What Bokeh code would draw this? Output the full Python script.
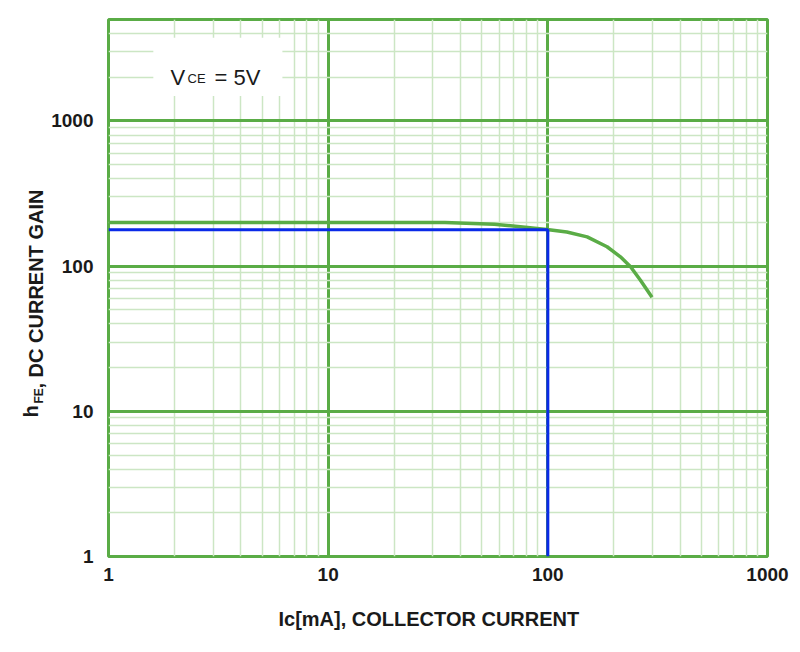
import math
from bokeh.plotting import figure
from bokeh.models import (Range1d, FixedTicker, PrintfTickFormatter, Label,
                          BoxAnnotation, ColumnDataSource)
from bokeh.embed import file_html
from bokeh.resources import INLINE

# ---- data ----
ic_ma = [1, 5, 10, 21, 34, 57, 75, 99, 122, 151, 186, 214, 238, 264, 298]
hfe = [200, 200, 200, 200, 200, 194, 187, 179, 172, 159, 136, 116, 99, 80, 61]

marker_x = [1, 100, 100]
marker_y = [178, 178, 1]

x_major = [1, 10, 100, 1000]
x_minor = [2, 3, 4, 5, 6, 7, 8, 9, 20, 30, 40, 50, 60, 70, 80, 90,
           200, 300, 400, 500, 600, 700, 800, 900]
x_tick_labels = ["1", "10", "100", "1000"]
y_major = [1, 10, 100, 1000]
y_minor = [2, 3, 4, 5, 6, 7, 8, 9, 20, 30, 40, 50, 60, 70, 80, 90,
           200, 300, 400, 500, 600, 700, 800, 900, 2000, 3000, 4000, 5000]
y_tick_labels = ["1", "10", "100", "1000"]

GREEN = "#5aac46"
LIGHT = "#cce6c4"
BLUE = "#0a2ae8"
TXT = "#1a1a1a"
FONT = "Liberation Sans"

p = figure(width=792, height=644, x_axis_type="log", y_axis_type="log",
           x_range=Range1d(1, 1000), y_range=Range1d(1, 5000),
           output_backend="svg", toolbar_location=None,
           min_border_left=108, min_border_right=25,
           min_border_top=19, min_border_bottom=88)
p.background_fill_color = "white"
p.border_fill_color = "white"
p.outline_line_color = GREEN
p.outline_line_width = 3

for ax, major, minor, labels in ((p.xaxis[0], x_major, x_minor, x_tick_labels),
                                 (p.yaxis[0], y_major, y_minor, y_tick_labels)):
    ax.ticker = FixedTicker(ticks=major, minor_ticks=minor)
    ax.formatter = PrintfTickFormatter(format="%d")
    ax.major_label_overrides = {m: l for m, l in zip(major, labels)}
    ax.axis_line_color = None
    ax.major_tick_line_color = None
    ax.minor_tick_line_color = None
    ax.major_tick_out = 0
    ax.major_tick_in = 0
    ax.major_label_text_font = FONT
    ax.major_label_text_font_style = "bold"
    ax.major_label_text_font_size = "19px"
    ax.major_label_text_color = TXT

p.xaxis.major_label_standoff = 7
p.yaxis.major_label_standoff = 11

for g in (p.xgrid[0], p.ygrid[0]):
    g.grid_line_color = GREEN
    g.grid_line_width = 3
    g.minor_grid_line_color = LIGHT
    g.minor_grid_line_width = 1.5
    g.level = "underlay"

# V_CE box
box = BoxAnnotation(left=1.60, right=6.19, bottom=1487, top=3740,
                    fill_color="white", fill_alpha=1.0, line_color=None,
                    level="underlay")
p.add_layout(box)

# curve
src = ColumnDataSource(dict(x=ic_ma, y=hfe))
p.line("x", "y", source=src, line_color=GREEN, line_width=3.5)
p.line(marker_x, marker_y, line_color=BLUE, line_width=3)

def lab(text, x, y, size, style="normal", angle=0.0, where="center"):
    l = Label(x=x, y=y, x_units="screen", y_units="screen", text=text,
              text_font=FONT, text_font_size=size, text_font_style=style,
              text_color=TXT, angle=angle, text_align="left",
              text_baseline="alphabetic")
    p.add_layout(l, where)

# V_CE = 5V label (screen units relative to frame bottom-left)
lab("V", 62, 479, "22px")
lab("CE", 79, 478, "13px")
lab("= 5V", 106, 479, "22px")

# x title (below panel, stacked under the axis)
lab("Ic[mA], COLLECTOR CURRENT", 170, -13, "20px", "bold", where="below")

# y title (rotated), pieces spread over side panels to keep the frame fixed
a = math.pi / 2
lab("h", 4, 139, "20px", "bold", a, where="left")
lab("FE", 38 - 108, 19 - 403, "12px", "bold", a, where="above")
lab(", DC CURRENT GAIN", 35 - 767, 168, "20px", "bold", a, where="right")

open("out.html", "w").write(file_html(p, INLINE))
